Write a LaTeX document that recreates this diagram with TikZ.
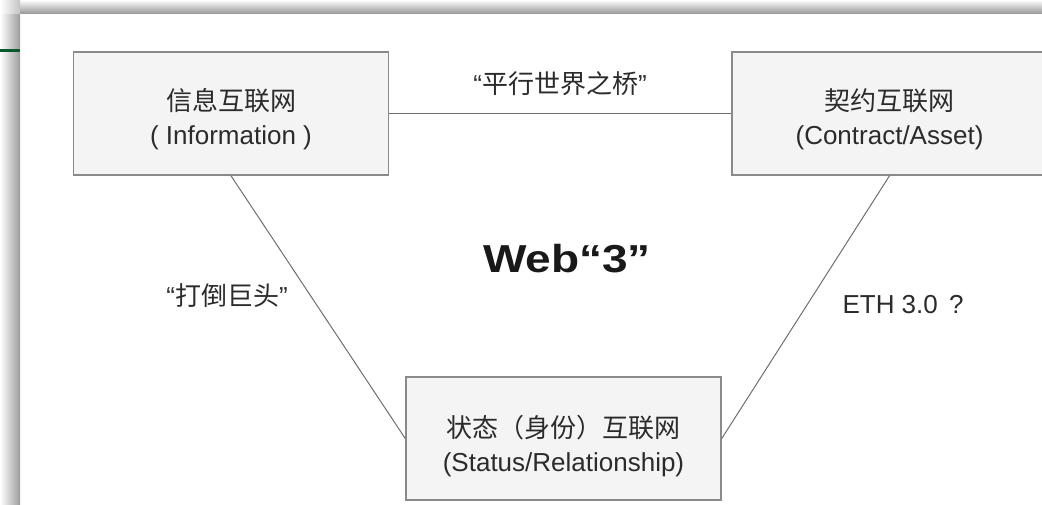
\documentclass[tikz,border=0pt]{standalone}
\usepackage{fontspec}
\usepackage{graphicx}
\setmainfont{Liberation Sans}
\newfontfamily\cjk{Noto Sans CJK SC}
\newcommand{\lowerstrut}{\rule{0pt}{33pt}}
\definecolor{txt}{HTML}{2B2B2B}
\definecolor{boxline}{HTML}{8A8A8A}
\definecolor{boxfill}{HTML}{F4F4F4}
\definecolor{conn}{HTML}{6E6E6E}
\definecolor{frameshadow}{HTML}{9C9C9C}
\definecolor{accent}{HTML}{0B5A2C}
\tikzset{
  netbox/.style={draw=boxline, line width=1.5pt, fill=boxfill, minimum width=315pt,
    minimum height=123pt, align=center, text=txt, inner sep=0pt,
    font=\fontsize{26}{34}\selectfont},
  edgelabel/.style={text=txt, inner sep=0pt, font=\fontsize{26}{32}\selectfont},
  connector/.style={draw=conn, line width=1pt},
  titletext/.style={text=black!90, inner sep=0pt, font=\bfseries\fontsize{39}{44}\selectfont}
}
\begin{document}
\begin{tikzpicture}[x=1pt,y=-1pt]
\useasboundingbox (0,0) rectangle (1042,504);
\clip (0,0) rectangle (1042,504);
% frame shadow
\shade[left color=white, right color=frameshadow] (0,13) rectangle (20,504);
\shade[top color=white, bottom color=frameshadow] (20,0) rectangle (1042,13);
\shade[left color=white, right color=frameshadow!60] (0,0) rectangle (20,13);
\draw[accent, line width=3pt] (0,50) -- (20,50);
% boxes
\node[netbox] (L) at (231,113.5) {\lowerstrut{\cjk 信息互联网}\\( Information )};
\node[netbox] (R) at (889.5,113.5) {\lowerstrut{\cjk 契约互联网}\\(Contract/Asset)};
\node[netbox] (B) at (563.5,438.5) {\rule{0pt}{37pt}{\cjk 状态（身份）互联网}\\(Status/Relationship)};
% connectors
\draw[connector] (L.east) -- (R.west);
\draw[connector] (L.south) -- (B.west);
\draw[connector] (R.south) -- (B.east);
% labels
\node[edgelabel] (q1) at (560,84) {“{\cjk 平行世界之桥}”};
\node[edgelabel] (q2) at (227,296) {“{\cjk 打倒巨头}”};
\node[edgelabel] (q3) at (903,305) {ETH 3.0\hspace{0.15em} ?};
\node[titletext] (web) at (567,259) {\scalebox{1.18}[1]{Web“3”}};
\end{tikzpicture}
\end{document}
